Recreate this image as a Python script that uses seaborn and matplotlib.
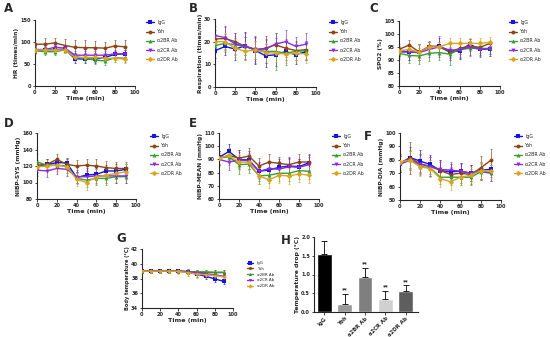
import numpy as np
import pandas as pd
import matplotlib
matplotlib.use("Agg")
import matplotlib.pyplot as plt
import seaborn as sns

sns.set_style("ticks")
plt.rcParams['font.family'] = ['DejaVu Sans']

# datos
time = [0, 10, 20, 30, 40, 50, 60, 70, 80, 90]
groups = ["IgG", "Yoh", "α2BR Ab", "α2CR Ab", "α2DR Ab"]
colors = ["#1414e6", "#8b4513", "#33a02c", "#8a2be2", "#d9a520"]
markers = ["s", "o", "^", "v", "D"]

# A - HR
hr_mean = [[82, 82, 83, 83, 62, 61, 61, 65, 72, 73],
           [95, 95, 98, 92, 88, 87, 87, 86, 91, 89],
           [80, 78, 78, 82, 67, 63, 59, 57, 64, 63],
           [83, 83, 88, 86, 70, 70, 70, 70, 73, 73],
           [82, 82, 82, 82, 65, 65, 65, 63, 63, 61]]
hr_sd = [[8, 7, 8, 6, 9, 8, 8, 7, 8, 8],
         [10, 14, 12, 14, 17, 18, 16, 15, 14, 16],
         [7, 8, 7, 6, 8, 9, 10, 9, 10, 9],
         [8, 9, 8, 7, 10, 9, 10, 9, 9, 8],
         [6, 7, 6, 7, 8, 8, 9, 8, 9, 8]]

# B - Respiration
resp_mean = [[16, 17.9, 16.7, 18.2, 16.1, 13.8, 14.2, 15.7, 14.2, 15.7],
             [21.2, 21.4, 20, 17.9, 16.4, 17.1, 18.6, 17.1, 16.1, 16.4],
             [18.2, 19.3, 18.6, 17.9, 16.4, 15.7, 15.7, 14.9, 15.7, 16.1],
             [22.7, 21.8, 19, 17.9, 16.7, 16.7, 19, 20, 17.9, 18.9],
             [20, 20, 17.1, 15.7, 16.4, 15.2, 14.9, 14.6, 14.9, 14.6]]
resp_sd = [[3, 4, 5, 6, 6, 5, 5, 4, 4, 4],
           [4, 5, 4, 4, 4, 4, 3, 4, 4, 4],
           [3, 4, 4, 4, 5, 5, 8, 5, 4, 4],
           [4, 5, 5, 6, 6, 6, 5, 5, 4, 5],
           [3, 4, 4, 4, 4, 4, 4, 4, 4, 4]]

# C - SPO2
spo2_mean = [[93.5, 93, 92.9, 95, 95.3, 93.1, 93.4, 96, 94, 94.2],
             [94, 95.7, 93, 95.3, 95, 93, 94.4, 95.3, 94.8, 96.3],
             [92.5, 91.7, 91.5, 92.5, 92.8, 92.2, 94, 94.4, 94.4, 94.4],
             [93, 93, 92.8, 94, 95, 93.8, 93.8, 95, 94, 94.4],
             [93.5, 94, 93, 95, 95, 96.3, 96.3, 96.3, 96.3, 96.7]]
spo2_sd = [[2, 3, 3, 2, 3, 3, 3, 2, 2, 2],
           [2, 2, 3, 2, 2, 2, 2, 2, 2, 1],
           [2, 3, 3, 3, 3, 4, 3, 3, 3, 3],
           [2, 3, 3, 3, 4, 3, 3, 3, 3, 3],
           [2, 2, 3, 2, 2, 2, 2, 2, 2, 2]]

# D - NIBP-SYS
sys_mean = [[119, 122, 124, 124, 106, 109, 110, 114, 114, 116],
            [121, 122, 128, 122, 120, 121, 120, 118, 117, 117],
            [125, 121, 121, 120, 105, 103, 105, 105, 107, 107],
            [115, 114, 117, 116, 107, 107, 108, 108, 108, 108],
            [119, 120, 121, 119, 104, 100, 107, 109, 111, 113]]
sys_sd = [[6, 7, 6, 6, 7, 8, 7, 7, 8, 7],
          [6, 7, 6, 7, 7, 7, 8, 8, 8, 8],
          [9, 7, 7, 8, 7, 8, 8, 8, 8, 8],
          [7, 7, 7, 8, 8, 8, 8, 9, 9, 9],
          [7, 7, 8, 8, 8, 9, 9, 10, 10, 10]]

# E - NIBP-MEAN
mean_mean = [[91.5, 96, 90, 89.5, 81, 82, 84, 85, 84.5, 87.5],
             [91, 93, 91, 92.5, 85, 88, 87, 86, 88, 88],
             [91, 92, 86, 86.5, 77.5, 78, 79.5, 79.5, 81.5, 81],
             [90, 88, 89.5, 89, 81, 83, 82.5, 84.5, 84, 86],
             [91, 93, 88, 88, 77.5, 74.5, 78, 77.5, 79, 78]]
mean_sd = [[5, 6, 7, 7, 7, 6, 6, 6, 6, 6],
           [5, 6, 6, 6, 6, 6, 5, 6, 6, 6],
           [5, 6, 7, 7, 6, 6, 6, 6, 6, 6],
           [5, 6, 6, 6, 6, 6, 6, 6, 6, 6],
           [5, 6, 6, 6, 6, 6, 6, 6, 6, 6]]

# F - NIBP-DIA
dia_mean = [[77, 81.7, 79, 76.5, 72, 71, 71.5, 70, 72, 73],
            [77.7, 81.4, 77, 75, 72, 69, 70, 69, 74, 79.7],
            [77.7, 80, 75, 74, 67, 67, 67, 67, 71, 70],
            [76.7, 79.7, 76.7, 75, 72.8, 72.3, 71.5, 70, 71.5, 70.3],
            [78.5, 79.7, 74.8, 73.5, 66, 63.6, 67, 68.5, 72, 71.5]]
dia_sd = [[6, 8, 8, 7, 8, 6, 6, 6, 6, 6],
          [7, 12, 7, 7, 6, 6, 7, 7, 9, 8],
          [6, 7, 6, 6, 5, 6, 6, 6, 6, 6],
          [6, 7, 7, 7, 7, 6, 6, 6, 6, 6],
          [6, 7, 7, 6, 6, 6, 6, 6, 6, 6]]

# G - temperatura corporal
temp_mean = [[39.0, 39.0, 39.0, 39.0, 39.0, 38.85, 38.6, 38.3, 37.95, 37.6],
             [39.0, 39.0, 39.0, 39.0, 39.0, 38.95, 38.85, 38.8, 38.8, 38.8],
             [39.0, 39.0, 39.0, 39.0, 39.0, 38.95, 38.9, 38.9, 38.85, 38.85],
             [39.0, 39.0, 39.0, 39.0, 39.0, 38.9, 38.8, 38.6, 38.5, 38.3],
             [39.0, 39.0, 39.0, 39.0, 38.95, 38.8, 38.6, 38.5, 38.4, 38.2]]
temp_sd = [[0.3, 0.3, 0.3, 0.3, 0.3, 0.3, 0.4, 0.4, 0.4, 0.4],
           [0.3, 0.3, 0.3, 0.3, 0.3, 0.3, 0.3, 0.4, 0.4, 0.4],
           [0.3, 0.3, 0.3, 0.3, 0.3, 0.3, 0.3, 0.3, 0.3, 0.3],
           [0.3, 0.3, 0.3, 0.3, 0.3, 0.3, 0.3, 0.3, 0.3, 0.3],
           [0.3, 0.3, 0.3, 0.3, 0.3, 0.4, 0.5, 0.4, 0.4, 0.4]]

# H - caída de temperatura
drop_mean = [1.55, 0.22, 0.93, 0.35, 0.57]
drop_sd = [0.35, 0.27, 0.25, 0.22, 0.15]
drop_colors = ["#000000", "#9a9a9a", "#7f7f7f", "#d0d0d0", "#5e5e5e"]

W, H = 550, 337
fig = plt.figure(figsize=(W / 100, H / 100), dpi=100)


def rect(l, r, t, b):
    return [l / W, 1 - b / H, (r - l) / W, (b - t) / H]


def estilo(ax):
    sns.despine(ax=ax)
    for s in ["left", "bottom"]:
        ax.spines[s].set_linewidth(0.8)
    ax.tick_params(labelsize=3.6, width=0.6, length=1.8, pad=1)
    for t in ax.get_xticklabels() + ax.get_yticklabels():
        t.set_fontweight("bold")


def panel_lineas(pos, medias, sds, ylim, yticks, ylabel, letra, letra_xy,
                 leg_xy, leg_fs=3.4, leg_sp=0.9, ms=2.8, ylab_fs=4.2):
    ax = fig.add_axes(rect(*pos))
    for i, g in enumerate(groups):
        ax.errorbar(time, medias[i], yerr=sds[i], fmt="none", ecolor=colors[i],
                    elinewidth=0.45, capsize=1.0, capthick=0.45, zorder=2)
        sns.lineplot(x=time, y=medias[i], color=colors[i], marker=markers[i],
                     markersize=ms, markeredgewidth=0, linewidth=1.0,
                     label=g, ax=ax, zorder=3)
    ax.set_xlim(0, 100)
    ax.set_xticks([0, 20, 40, 60, 80, 100])
    ax.set_ylim(*ylim)
    ax.set_yticks(yticks)
    ax.set_xlabel("Time (min)", fontsize=4.6, fontweight="bold", labelpad=1)
    ax.set_ylabel(ylabel, fontsize=ylab_fs, fontweight="bold", labelpad=1)
    estilo(ax)
    h, l = ax.get_legend_handles_labels()
    ax.legend(h, l, loc="upper left", bbox_to_anchor=(leg_xy[0] / W, 1 - leg_xy[1] / H),
              bbox_transform=fig.transFigure, fontsize=leg_fs, frameon=False,
              labelspacing=leg_sp, handlelength=1.6, handletextpad=0.8,
              borderaxespad=0, borderpad=0)
    fig.text(letra_xy[0] / W, 1 - letra_xy[1] / H, letra, fontsize=8.5,
             fontweight="bold", ha="left", va="center")
    return ax


panel_lineas((35, 135, 20, 86), hr_mean, hr_sd, (0, 150), [0, 50, 100, 150],
             "HR (times/min)", "A", (4, 9), (146, 20))
panel_lineas((215, 316, 19, 87), resp_mean, resp_sd, (0, 30), [0, 10, 20, 30],
             "Respiration (times/min)", "B", (189, 9), (329, 20))
panel_lineas((399, 500, 20.7, 86), spo2_mean, spo2_sd, (80, 105),
             [80, 85, 90, 95, 100, 105], "SPO2 (%)", "C", (369, 9), (509, 20))
panel_lineas((37, 136, 133, 199), sys_mean, sys_sd, (80, 160),
             [80, 100, 120, 140, 160], "NIBP-SYS (mmHg)", "D", (4, 123), (150, 134))
panel_lineas((219, 319, 133, 199), mean_mean, mean_sd, (60, 110),
             [60, 70, 80, 90, 100, 110], "NIBP-MEAN (mmHg)", "E", (189, 123), (332, 134))
panel_lineas((400, 501, 133, 200), dia_mean, dia_sd, (50, 100),
             [50, 60, 70, 80, 90, 100], "NIBP-DIA (mmHg)", "F", (364, 137), (514, 134))
panel_lineas((142, 233, 249, 308), temp_mean, temp_sd, (34, 42),
             [34, 36, 38, 40, 42], "Body temperature (°C)", "G", (116, 239), (247, 261),
             leg_fs=2.9, leg_sp=0.45, ms=2.2, ylab_fs=3.6)

# H - barras
axh = fig.add_axes(rect(314, 418, 237, 312))
df_h = pd.DataFrame({"grupo": groups, "valor": drop_mean})
sns.barplot(data=df_h, x="grupo", y="valor", hue="grupo", palette=drop_colors,
            width=0.72, legend=False, ax=axh)
axh.errorbar(range(len(groups)), drop_mean, yerr=[np.zeros(5), drop_sd], fmt="none",
             ecolor="#000000", elinewidth=0.6, capsize=2, capthick=0.6)
for i in range(1, 5):
    axh.text(i, drop_mean[i] + drop_sd[i] + 0.03, "**", ha="center", va="bottom",
             fontsize=4, fontweight="bold")
axh.set_xlim(-0.5, 4.6)
axh.set_ylim(0, 2.0)
axh.set_yticks([0.0, 0.5, 1.0, 1.5, 2.0])
axh.set_yticklabels(["0.0", "0.5", "1.0", "1.5", "2.0"])
axh.set_xlabel("")
axh.set_ylabel("Temperature drop (°C)", fontsize=4.4, fontweight="bold", labelpad=1)
estilo(axh)
plt.setp(axh.get_xticklabels(), rotation=45, ha="right", rotation_mode="anchor",
         fontsize=3.8)
fig.text(281 / W, 1 - 241 / H, "H", fontsize=8.5, fontweight="bold", ha="left", va="center")

plt.savefig("out.png", dpi=100)
